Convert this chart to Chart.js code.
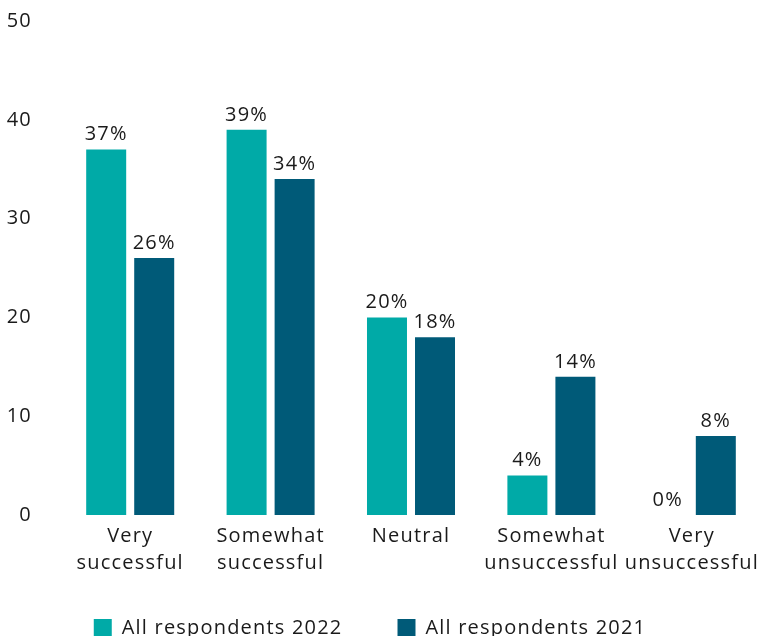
<!DOCTYPE html>
<html>
<head>
<meta charset="utf-8">
<script src="https://cdn.jsdelivr.net/npm/chart.js@4"></script>
<style>
  html, body { margin: 0; padding: 0; background: #fff; overflow: hidden; }
  #wrap { position: relative; width: 762px; height: 681px; margin-top: -11px; }
</style>
</head>
<body>
<div id="wrap"><canvas id="chart"></canvas></div>
<script>
const categories = [
  ['Very', 'successful'],
  ['Somewhat', 'successful'],
  ['Neutral'],
  ['Somewhat', 'unsuccessful'],
  ['Very', 'unsuccessful']
]
const respondents2022 = [37, 39, 20, 4, 0]
const respondents2021 = [26, 34, 18, 14, 8]
const seriesNames = ['All respondents 2022', 'All respondents 2021']
const seriesColors = ['#00aaa7', '#005a78']

const FONT = "'Open Sans', sans-serif"
const TEXT = '#1a1a1a'
const SPACING = '1.2px'

// wider tracking on all canvas text; the context state resets on resize
const tracking = {
  id: 'tracking',
  beforeUpdate(chart) { chart.ctx.letterSpacing = SPACING },
  beforeLayout(chart) { chart.ctx.letterSpacing = SPACING },
  beforeDraw(chart) { chart.ctx.letterSpacing = SPACING }
}

// pull the legend row up closer to the category labels
const legendNudge = {
  id: 'legendNudge',
  afterLayout(chart) {
    const legend = chart.legend
    legend.top -= 22
    legend.bottom -= 22
    legend.left -= 11
    legend.right -= 11
  }
}

// writes the percentage over every bar
const valueLabels = {
  id: 'valueLabels',
  afterDatasetsDraw(chart) {
    const { ctx } = chart
    ctx.save()
    ctx.font = `20px ${FONT}`
    ctx.fillStyle = TEXT
    ctx.textAlign = 'center'
    ctx.textBaseline = 'alphabetic'
    chart.data.datasets.forEach((dataset, i) => {
      chart.getDatasetMeta(i).data.forEach((bar, j) => {
        ctx.fillText(`${dataset.data[j]}%`, bar.x, bar.y - 9)
      })
    })
    ctx.restore()
  }
}

const barShape = { categoryPercentage: 0.684, barPercentage: 0.833 }

new Chart(document.getElementById('chart'), {
  type: 'bar',
  data: {
    labels: categories,
    datasets: [
      { label: seriesNames[0], data: respondents2022, backgroundColor: seriesColors[0], ...barShape },
      { label: seriesNames[1], data: respondents2021, backgroundColor: seriesColors[1], ...barShape }
    ]
  },
  plugins: [tracking, legendNudge, valueLabels],
  options: {
    responsive: true,
    maintainAspectRatio: false,
    animation: false,
    layout: { padding: 0 },
    plugins: {
      tooltip: { enabled: false },
      legend: {
        position: 'bottom',
        labels: {
          boxWidth: 18,
          boxHeight: 18,
          padding: 55,
          color: TEXT,
          font: { family: FONT, size: 20 }
        }
      }
    },
    scales: {
      x: {
        grid: { display: false, drawTicks: false },
        border: { display: false },
        // let the last label run up to the canvas edge
        afterFit(scale) {
          scale.paddingLeft = 0
          scale.paddingRight = 0
        },
        ticks: {
          color: TEXT,
          padding: 8,
          font: { family: FONT, size: 20, lineHeight: 1.35 },
          maxRotation: 0,
          autoSkip: false
        }
      },
      y: {
        min: 0,
        max: 50,
        grid: { display: false },
        border: { display: false },
        afterFit(scale) { scale.width = 60 },
        ticks: {
          stepSize: 10,
          padding: 20,
          color: TEXT,
          font: { family: FONT, size: 20 }
        }
      }
    }
  }
})
</script>
</body>
</html>
